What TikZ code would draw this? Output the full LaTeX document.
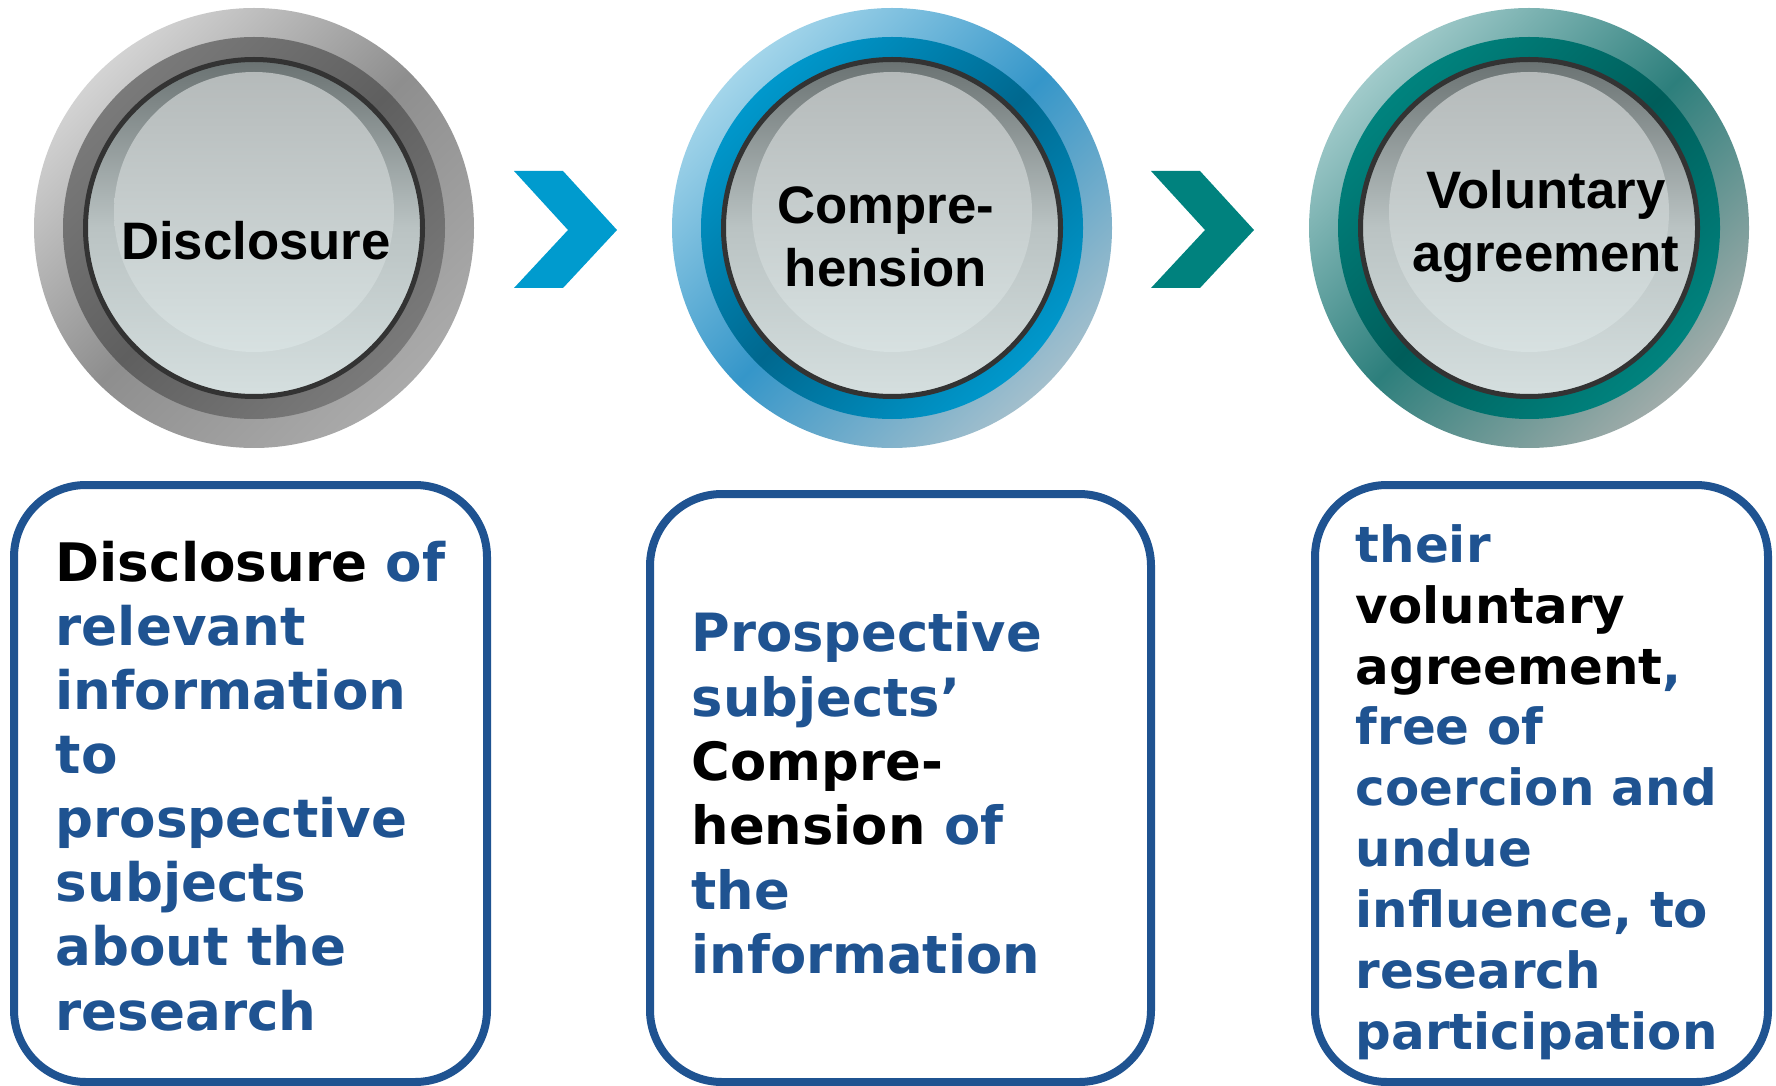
\documentclass[tikz,border=0pt]{standalone}
\usepackage{fontspec}
\setmainfont{DejaVu Sans}
\newfontfamily\buttonfont{Liberation Sans}
\usepackage{xcolor}
\usetikzlibrary{positioning}

% ring colours (hi = upper left, mid = diagonal band, lo = lower right)
\definecolor{higray}{HTML}{D3D3D3}
\definecolor{midgray}{HTML}{8E8E8E}
\definecolor{logray}{HTML}{AAAAAA}
\definecolor{ringgray}{HTML}{7A7A7A}
\definecolor{deepgray}{HTML}{5F5F5F}
\definecolor{hiblue}{HTML}{A3D5EA}
\definecolor{midblue}{HTML}{3596C9}
\definecolor{loblue}{HTML}{A3BFCC}
\definecolor{ringblue}{HTML}{0098CC}
\definecolor{deepblue}{HTML}{00688F}
\definecolor{hiteal}{HTML}{A0CACA}
\definecolor{midteal}{HTML}{2D7F7C}
\definecolor{loteal}{HTML}{A0ACAA}
\definecolor{ringteal}{HTML}{00837E}
\definecolor{deepteal}{HTML}{005D5A}
% button face
\definecolor{facetop}{HTML}{6A7272}
\definecolor{facemid}{HTML}{BAC3C3}
\definecolor{facebot}{HTML}{D5DFDF}
\definecolor{glowtop}{HTML}{B5BABA}
\definecolor{glowbot}{HTML}{D7E1E1}
\definecolor{rim}{HTML}{333333}
% arrows and boxes
\definecolor{chevblue}{HTML}{009BCE}
\definecolor{chevteal}{HTML}{00827E}
\definecolor{textblue}{HTML}{1F5391}

\begin{document}
\begin{tikzpicture}[
    label/.style={font=\buttonfont\bfseries\fontsize{15}{18.2}\selectfont, align=center, anchor=base, inner sep=0pt},
    infobox/.style={draw=textblue, line width=0.08cm, rounded corners=0.72cm},
    infotext/.style={text=textblue, align=left, anchor=base west, inner sep=0pt}
  ]
    \useasboundingbox (0,0) rectangle (17.76,-10.86);
    % Buttons
    \foreach \x/\c in {2.54/gray, 8.92/blue, 15.29/teal} {
        \shade[top color=hi\c, bottom color=lo\c, middle color=mid\c, shading angle=45] (\x,-2.28) circle (2.20);
        \shade[top color=ring\c, bottom color=ring\c, middle color=deep\c, shading angle=45] (\x,-2.28) circle (1.91);
        \shade[top color=facetop, bottom color=facebot, middle color=facemid] (\x,-2.28) circle (1.685);
        \shade[top color=glowtop, bottom color=glowbot] (\x,-2.12) circle (1.40);
        \draw[rim, line width=0.05cm] (\x,-2.28) circle (1.685);
    }
    % Button labels (base = last line)
    \node[label] (disclosure) at (2.56,-2.60) {Disclosure};
    \node[label] (comprehension) at (8.86,-2.87) {Compre-\\hension};
    \node[label] (agreement) at (15.46,-2.72) {Voluntary\\agreement};
    % Chevrons
    \fill[chevblue] (5.14,-1.71) -- (5.63,-1.71) -- (6.17,-2.30) -- (5.63,-2.88) -- (5.14,-2.88) -- (5.68,-2.30) -- cycle;
    \fill[chevteal] (11.51,-1.71) -- (12.00,-1.71) -- (12.54,-2.30) -- (12.00,-2.88) -- (11.51,-2.88) -- (12.05,-2.30) -- cycle;
    % Boxes
    \draw[infobox] (0.14,-4.85) rectangle (4.87,-10.82);
    \draw[infobox] (6.50,-4.94) rectangle (11.51,-10.82);
    \draw[infobox] (13.15,-4.85) rectangle (17.68,-10.82);
    % Box texts (base = last line)
    \node[infotext, font=\bfseries\fontsize{15.1}{18.24}\selectfont] (disclosureText) at (0.55,-10.30)
        {\textcolor{black}{Disclosure} of\\relevant\\information\\to\\prospective\\subjects\\about the\\research};
    \node[infotext, font=\bfseries\fontsize{15}{18.3}\selectfont] (comprehensionText) at (6.91,-9.735)
        {Prospective\\subjects’\\\textcolor{black}{Compre-}\\\textcolor{black}{hension} of\\the\\information};
    \node[infotext, font=\bfseries\fontsize{14.2}{17.3}\selectfont] (agreementText) at (13.55,-10.49)
        {their\\\textcolor{black}{voluntary}\\\textcolor{black}{agreement},\\free of\\coercion and\\undue\\influence, to\\research\\participation};
\end{tikzpicture}
\end{document}
